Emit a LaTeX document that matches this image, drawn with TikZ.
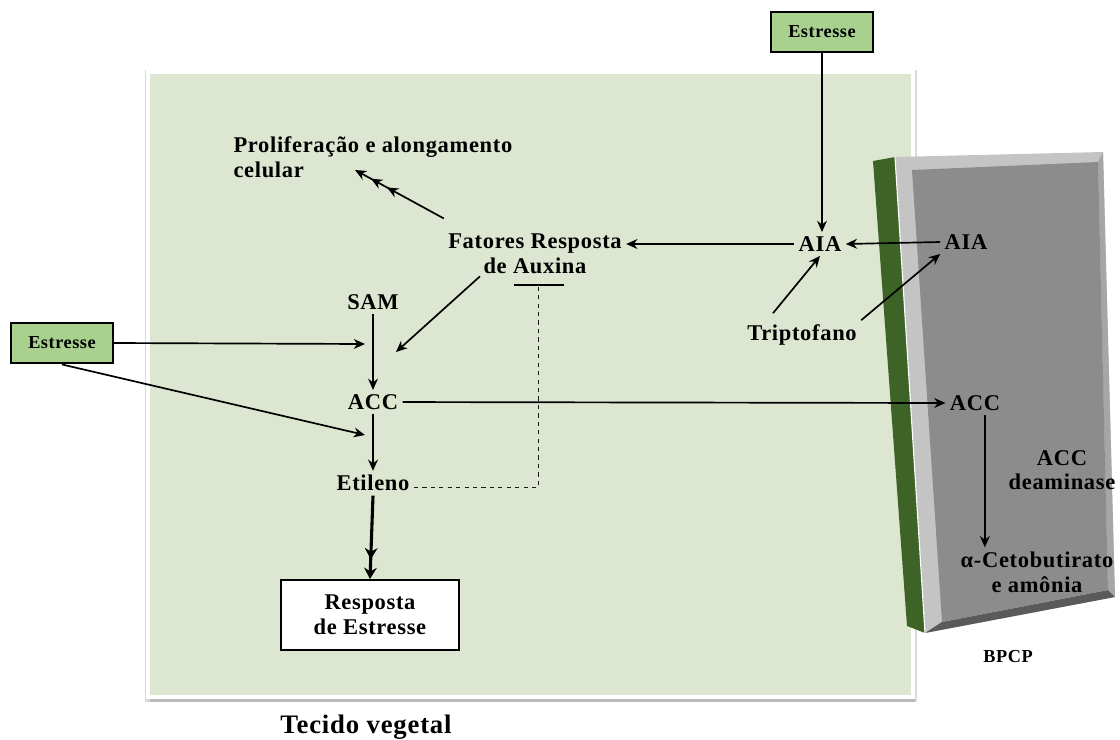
\documentclass[tikz,border=0pt]{standalone}
\usepackage{fontspec}
\setmainfont[LetterSpace=3]{Liberation Serif}
\usetikzlibrary{arrows.meta, positioning}

\definecolor{tecido}{HTML}{DCE6D0}
\definecolor{estresse}{HTML}{A9D18E}
\definecolor{parede}{HTML}{3E6326}
\definecolor{cinzaclaro}{HTML}{C4C4C4}
\definecolor{cinza}{HTML}{8C8C8C}
\definecolor{cinzaescuro}{HTML}{5A5A5A}

\tikzset{
  rotulo/.style={font=\fontsize{16}{17.5}\selectfont\bfseries, align=center, inner sep=3pt},
  caixaestresse/.style={rotulo, draw, line width=1.5pt, fill=estresse,
                        font=\fontsize{13}{15}\selectfont\bfseries,
                        minimum width=2.55cm, minimum height=1.02cm},
  seta/.style={->, line width=1.2pt},
  setagrossa/.style={->, line width=2pt}
}

\begin{document}
\begin{tikzpicture}[x=0.025cm, y=-0.025cm, node distance=2.5cm,
                    >={Stealth[length=8pt,width=7pt]}]
\useasboundingbox (0,0) rectangle (1120,739);

% Tecido vegetal e bacteria
\fill[gray!30] (145,70) rectangle (917,702);
\fill[gray!55] (150,697) rectangle (915,702);
\draw[white, line width=2.5pt, fill=tecido] (148,72) rectangle (913,697);
\fill[cinzaclaro] (895,157) -- (1103,152) -- (1115,597) -- (925,633) -- cycle;
\fill[gray!70] (1098,162) -- (1103,152) -- (1115,597) -- (1108,590) -- cycle;
\fill[cinzaescuro] (942,622) -- (1108,590) -- (1115,597) -- (925,633) -- cycle;
\fill[cinza] (912,170) -- (1098,162) -- (1108,590) -- (942,622) -- cycle;
\fill[parede] (873,161) -- (895,157) -- (925,633) -- (907,626) -- cycle;
\draw[white, line width=0.8pt] (895,157) -- (925,633);

% Nodes
\node[rotulo, align=left, anchor=west] (prolif) at (229,157) {Proliferação e alongamento\\celular};
\node[rotulo] (fatores) at (535,254) {Fatores Resposta\\de Auxina};
\node[rotulo] (sam) at (373,302) {SAM};
\node[rotulo, below of=sam] (acc) {ACC};
\node[rotulo, below of=acc, node distance=2.03cm] (etileno) {Etileno};
\node[rotulo, draw, line width=1.4pt, fill=white, minimum width=4.45cm,
      minimum height=1.75cm] (resposta) at (370,615) {Resposta\\de Estresse};
\node[caixaestresse] (estresseE) at (62,343) {Estresse};
\node[caixaestresse, minimum height=1cm] (estresseT) at (822,32) {Estresse};
\node[rotulo] (aiaP) at (820,244) {AIA};
\node[rotulo] (aiaB) at (966,242) {AIA};
\node[rotulo] (tript) at (802,335) {Triptofano};
\node[rotulo] (accB) at (975,403) {ACC};
\node[rotulo] (deam) at (1062,470) {ACC\\deaminase};
\node[rotulo] (ceto) at (1037,572) {α-Cetobutirato\\e amônia};
\node[rotulo, font=\fontsize{13}{15}\selectfont\bfseries] (bpcp) at (1008,657) {BPCP};
\fill[white] (253,703) rectangle (480,739);
\node[rotulo, font=\fontsize{19}{21}\selectfont\bfseries] (tecidolab) at (366,727) {Tecido vegetal};

\coordinate (entradaSAM) at (365,344);
\coordinate (entradaEt) at (365,435);
\coordinate (barra) at (538,285);
\coordinate (barraE) at (514,285);
\coordinate (barraD) at (564,285);

% Edges
\draw[seta] (estresseT.south) -- (estresseT.south |- aiaP.north);
\draw[seta] (aiaB.west) -- (aiaP.east);
\draw[seta] (aiaP.west) -- (aiaP.west -| fatores.east);
\draw[seta] ([shift={(-29,-7)}]tript.north) -- (aiaP.south);
\draw[seta] (tript.north east) -- (aiaB.south west);
\draw[line width=1.2pt, -{Stealth[length=8pt,width=7pt,sep=5pt]Stealth[length=8pt,width=7pt,sep=5pt]Stealth[length=8pt,width=7pt]}]
  ([yshift=8pt]fatores.north west) -- ([shift={(126,13)}]prolif.west);
\draw[seta] ([shift={(-55,-2)}]fatores.south) -- ([shift={(23,50)}]sam.center);
\draw[seta] (estresseE.east) -- (entradaSAM);
\draw[seta] (sam.south) -- (acc.north);
\draw[seta] (acc.east) -- (accB.west);
\draw[seta] (estresseE.south) -- (entradaEt);
\draw[setagrossa] (acc.south) -- (etileno.north);
\draw[line width=2.2pt, -{Stealth[length=8pt,width=9pt,sep=6pt]Stealth[length=8pt,width=9pt]}]
  (etileno.south) -- (resposta.north);
\draw[dashed, gray!20!black, line width=0.7pt] ([yshift=-3pt]etileno.east) -| (barra);
\draw[line width=1.4pt] (barraE) -- (barraD);
\draw[seta] ([xshift=7pt]accB.south) -- ([xshift=7pt]accB.south |- ceto.north);

\end{tikzpicture}
\end{document}
